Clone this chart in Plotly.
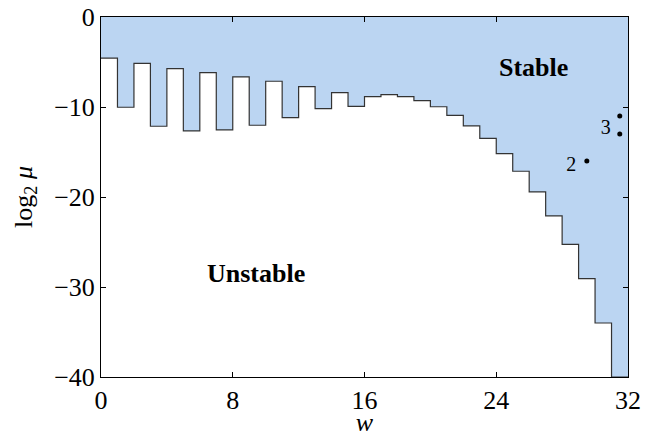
import plotly.graph_objects as go

# bin index w (0..31) and stability boundary log2(mu) per bin
w_bins = list(range(32))
boundary = [-4.56, -10.03, -5.15, -12.14, -5.74, -12.66, -6.18, -12.55,
            -6.66, -12.03, -7.14, -11.18, -7.74, -10.18, -8.4, -9.92,
            -8.85, -8.63, -8.85, -9.3, -9.97, -10.92, -12.1, -13.48,
            -15.18, -17.14, -19.44, -22.1, -25.26, -29.07, -34.0, -40.0]

point_w = [29.5, 31.5, 31.5]
point_mu = [-16, -11, -13]
point_labels = ["2", "3"]
point_label_w = [28.55, 30.65]
point_label_mu = [-16.5, -12.4]

x_ticks = [0, 8, 16, 24, 32]
y_ticks = [0, -10, -20, -30, -40]

FONT = "Liberation Serif"

step_x = w_bins + [w_bins[-1] + 1]
step_y = boundary + [boundary[-1]]

fig = go.Figure()
fig.add_trace(go.Scatter(x=[step_x[0], step_x[-1]], y=[0, 0], mode="lines",
                         line=dict(width=0), showlegend=False, hoverinfo="skip"))
fig.add_trace(go.Scatter(x=step_x, y=step_y, mode="lines", line_shape="hv",
                         line=dict(color="#333333", width=1.2),
                         fill="tonexty", fillcolor="#bbd5f2",
                         showlegend=False))
fig.add_trace(go.Scatter(x=point_w, y=point_mu, mode="markers",
                         marker=dict(color="black", size=5), showlegend=False))
fig.add_trace(go.Scatter(x=point_label_w, y=point_label_mu, mode="text",
                         text=point_labels, textfont=dict(family=FONT, size=20, color="black"),
                         showlegend=False))

fig.add_annotation(x=26.25, y=-5.6, text="<b>Stable</b>", showarrow=False,
                   font=dict(family=FONT, size=26, color="black"))
fig.add_annotation(x=9.4, y=-28.5, text="<b>Unstable</b>", showarrow=False,
                   font=dict(family=FONT, size=26, color="black"))

axis_common = dict(showgrid=False, zeroline=False, showline=True, linecolor="black",
                   linewidth=1, mirror="ticks", ticks="inside", ticklen=5,
                   tickcolor="black", automargin=False,
                   tickfont=dict(family=FONT, size=26, color="black"))

fig.update_xaxes(range=[0, 32], tickvals=x_ticks,
                 title=dict(text="<i>w</i>", font=dict(family=FONT, size=26, color="black"), standoff=4),
                 **axis_common)
fig.update_yaxes(range=[-40, 0], tickvals=y_ticks,
                 title=dict(text="log<sub>2</sub> <i>μ</i>", font=dict(family=FONT, size=26, color="black"), standoff=14),
                 **axis_common)

fig.update_layout(width=657, height=437, plot_bgcolor="white", paper_bgcolor="white",
                  margin=dict(l=101, r=29, t=17, b=60), showlegend=False)

fig.write_html("out.html", config={"displayModeBar": False},
               post_script="document.body.style.margin='0';")
